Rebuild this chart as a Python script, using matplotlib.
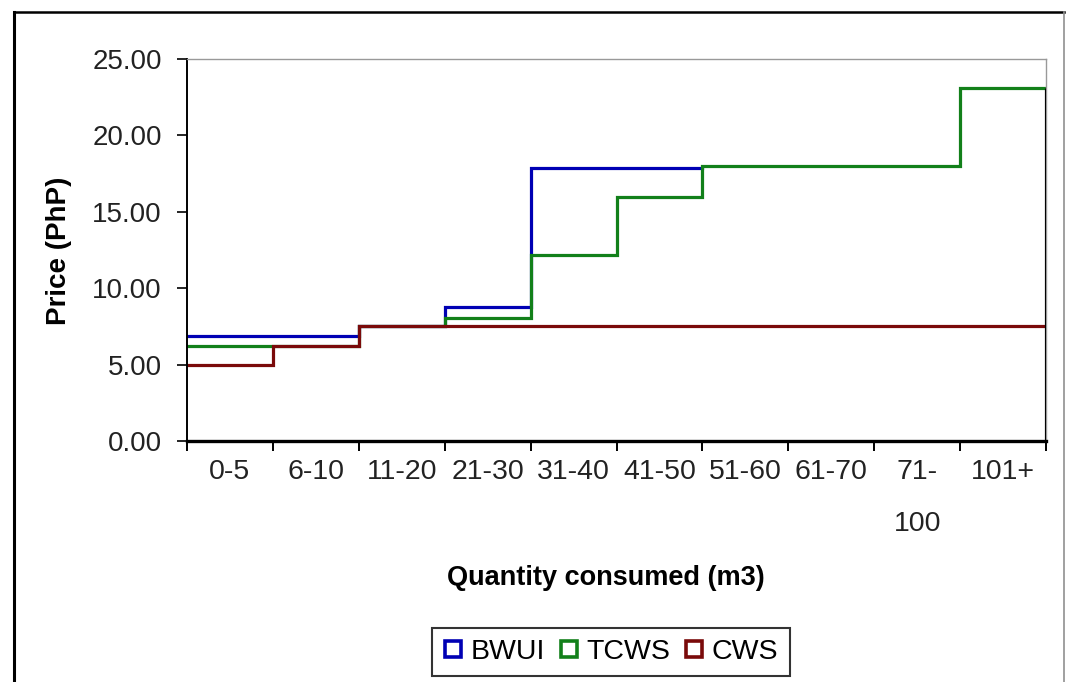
import numpy as np
import matplotlib
matplotlib.use("Agg")
import matplotlib.pyplot as plt
from matplotlib.lines import Line2D

categories = ["0-5", "6-10", "11-20", "21-30", "31-40", "41-50",
              "51-60", "61-70", "71-\n100", "101+"]
bwui = [6.9, 6.9, 7.5, 8.8, 17.85, 17.85, np.nan, np.nan, np.nan, np.nan]
tcws = [6.2, 6.2, 7.5, 8.05, 12.15, 16.0, 18.0, 18.0, 18.0, 23.1]
cws = [5.0, 6.2, 7.5, 7.5, 7.5, 7.5, 7.5, 7.5, 7.5, 7.5]
series_names = ["BWUI", "TCWS", "CWS"]
colors = ["#0000b4", "#12801a", "#7a0a0a"]
yticks = [0, 5, 10, 15, 20, 25]

plt.rcParams['font.family'] = ['Liberation Sans', 'DejaVu Sans']

W, H = 1066, 682
fig = plt.figure(figsize=(W / 100, H / 100), dpi=100)
fig.patch.set_facecolor("white")

# outer chart frame
fig.add_artist(Line2D([14 / W, 14 / W], [-0.01, 1 - 12 / H], color="black", lw=2.2, transform=fig.transFigure))
fig.add_artist(Line2D([14 / W, 1064 / W], [1 - 12 / H, 1 - 12 / H], color="black", lw=1.8, transform=fig.transFigure))
fig.add_artist(Line2D([1064 / W, 1064 / W], [-0.01, 1 - 12 / H], color="#909090", lw=1.2, transform=fig.transFigure))

ax = fig.add_axes([187 / W, 1 - 441 / H, (1046 - 187) / W, (441 - 59) / H])
n = len(categories)
x_edges = np.arange(n + 1)

for vals, name, c in zip([bwui, tcws, cws], series_names, colors):
    y = list(vals) + [vals[-1]]
    ax.step(x_edges, y, where="post", color=c, lw=2.3, label=name, solid_joinstyle="miter")

# closing vertical line at right edge
ax.vlines(n, 0, tcws[-1], color="black", lw=2.3, zorder=5)

ax.set_xlim(0, n)
ax.set_ylim(0, 25)
ax.set_yticks(yticks)
ax.set_yticklabels([f"{v:.2f}" for v in yticks])
ax.set_xticks(x_edges)
ax.set_xticklabels([""] * (n + 1))
ax.set_xticks(np.arange(n) + 0.5, minor=True)
ax.set_xticklabels(categories, minor=True)
ax.tick_params(axis="x", which="minor", length=0, pad=13, labelsize=20.5)
ax.tick_params(axis="x", which="major", length=7, width=1.4, direction="out")
ax.tick_params(axis="y", length=7, width=1.2, direction="out", labelsize=20, pad=11)
for lbl in ax.get_yticklabels():
    lbl.set_color("#222222")
for lbl in ax.get_xticklabels(minor=True):
    lbl.set_color("#222222")
    lbl.set_linespacing(2.3)
    lbl.set_verticalalignment("top")

ax.spines["left"].set_linewidth(1.4)
ax.spines["bottom"].set_linewidth(2.4)
ax.spines["top"].set_color("#999999")
ax.spines["top"].set_linewidth(1.0)
ax.spines["right"].set_color("#999999")
ax.spines["right"].set_linewidth(1.0)

ax.set_xlabel("Quantity consumed (m3)", fontsize=19.5, fontweight="bold", va="center")
ax.xaxis.set_label_coords((606 - 187) / 859, (441 - 578) / 382)
ax.set_ylabel("Price (PhP)", fontsize=20, fontweight="bold", va="center")
ax.yaxis.set_label_coords((59 - 187) / 859, (441 - 251) / 382)

handles = [Line2D([], [], ls="none", marker="s", markersize=12, markerfacecolor="white",
                  markeredgecolor=c, markeredgewidth=2.6) for c in colors]
leg = fig.legend(handles, series_names, loc="center", bbox_to_anchor=(611 / W, 1 - 652 / H),
                 ncol=3, fontsize=20.5, frameon=True, fancybox=False, edgecolor="black",
                 handlelength=0.65, handletextpad=0.3, columnspacing=0.5, borderpad=0.4,
                 borderaxespad=0)
leg.get_frame().set_linewidth(1.5)

fig.savefig("out.png", dpi=100, facecolor="white")
